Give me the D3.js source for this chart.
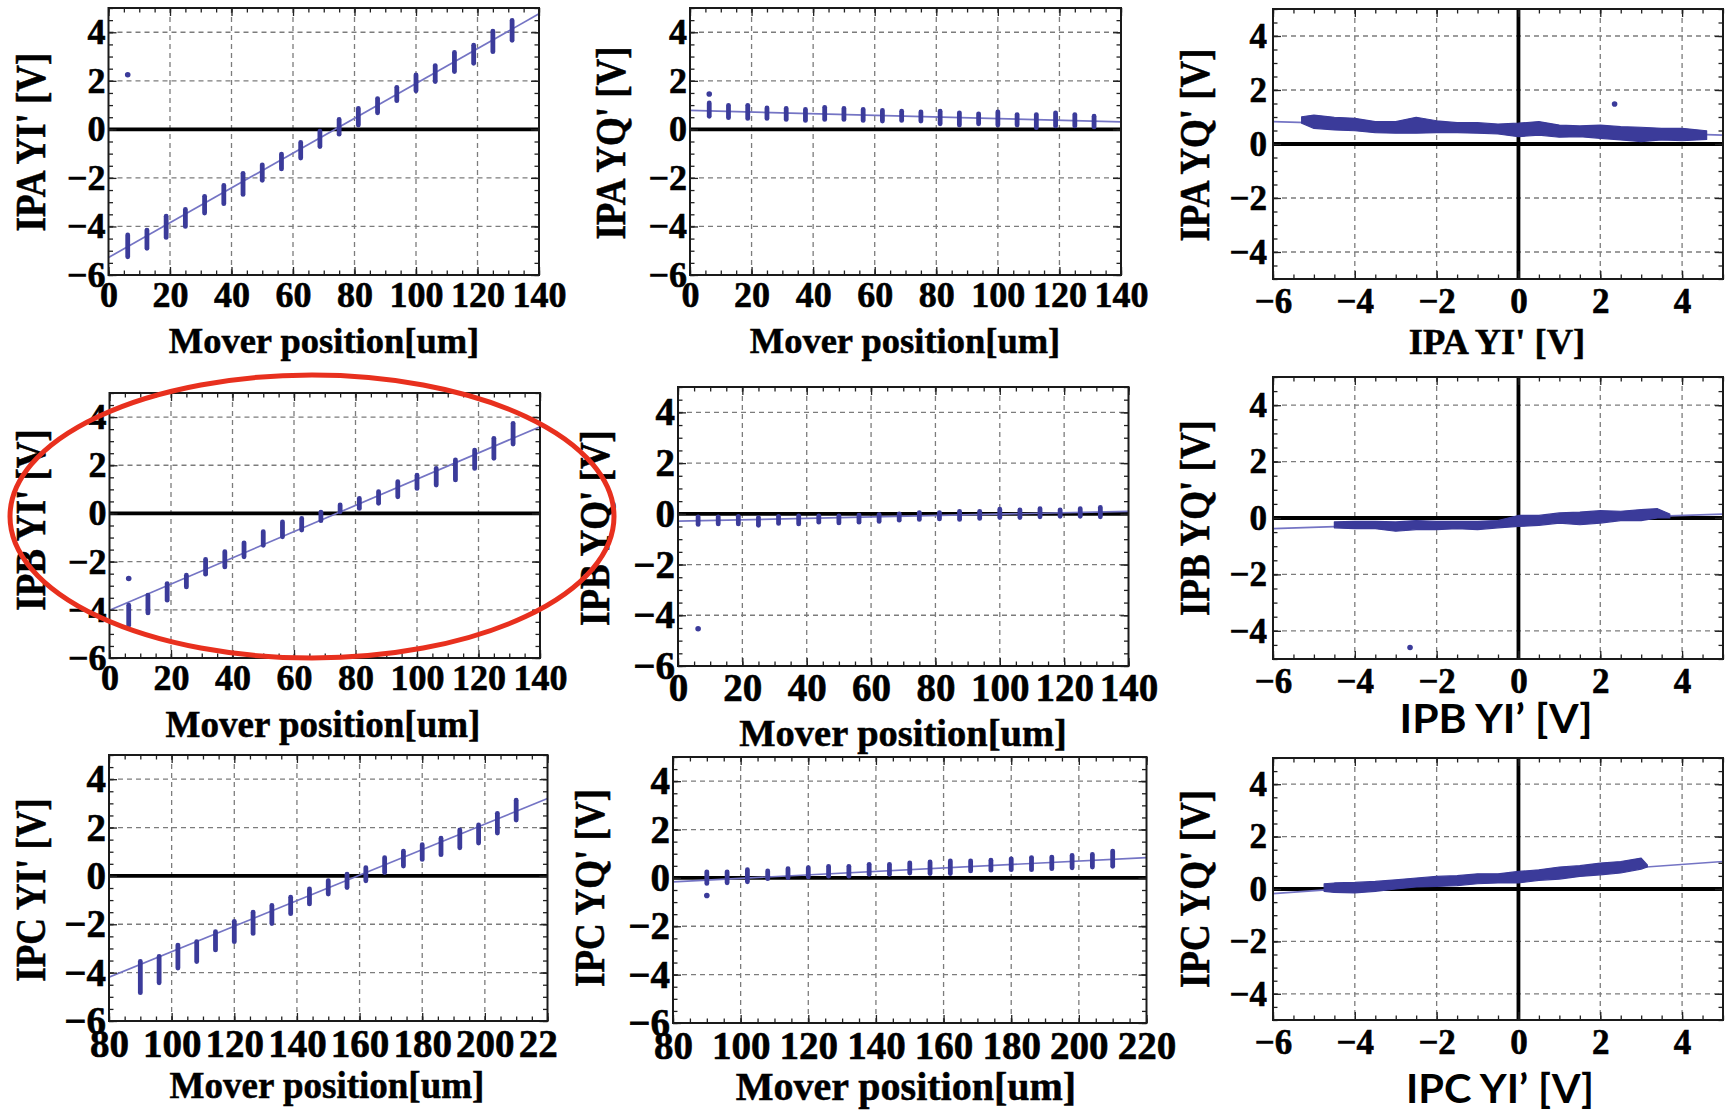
<!DOCTYPE html>
<html>
<head>
<meta charset="utf-8">
<script src="https://cdn.jsdelivr.net/npm/d3@7"></script>
<style>
  body { margin: 0; background: #fff; }
  svg { display: block; }
</style>
</head>
<body>
<svg id="chart"></svg>
<script>
// mover positions of the 21 steps (um)
const posAB = [6.25, 12.5, 18.75, 25, 31.25, 37.5, 43.75, 50, 56.25, 62.5, 68.75, 75, 81.25, 87.5, 93.75, 100, 106.25, 112.5, 118.75, 125, 131.25];
const posC = [90, 96, 102, 108, 114, 120, 126, 132, 138, 144, 150, 156, 162, 168, 174, 180, 186, 192, 198, 204, 210];

// spread of readings at each step [min, max] in volts
const ipaYI = [[-5.25, -4.35], [-4.9, -4.15], [-4.45, -3.58], [-4.0, -3.3], [-3.45, -2.76], [-3.06, -2.31], [-2.68, -1.81], [-2.1, -1.46], [-1.63, -1.02], [-1.18, -0.54], [-0.71, -0.07], [-0.2, 0.41], [0.18, 0.86], [0.68, 1.27], [1.18, 1.73], [1.59, 2.24], [1.97, 2.63], [2.38, 3.17], [2.72, 3.47], [3.2, 4.05], [3.67, 4.49]];
const ipaYQ = [[0.54, 1.09], [0.48, 0.99], [0.45, 0.99], [0.45, 0.88], [0.41, 0.86], [0.37, 0.82], [0.41, 0.91], [0.41, 0.86], [0.37, 0.82], [0.34, 0.78], [0.37, 0.75], [0.34, 0.72], [0.23, 0.75], [0.18, 0.68], [0.23, 0.64], [0.18, 0.72], [0.18, 0.61], [0.07, 0.61], [0.14, 0.68], [0.14, 0.61], [0.1, 0.54]];
const ipbYI = [[-4.64, -3.81], [-4.13, -3.39], [-3.6, -2.91], [-3.05, -2.56], [-2.52, -1.91], [-2.22, -1.59], [-1.8, -1.22], [-1.32, -0.76], [-0.97, -0.35], [-0.69, -0.21], [-0.3, 0.05], [0.07, 0.35], [0.21, 0.62], [0.42, 0.9], [0.69, 1.32], [1.04, 1.59], [1.18, 1.87], [1.39, 2.22], [1.87, 2.63], [2.29, 3.12], [2.88, 3.74]];
const ipbYQ = [[-0.42, -0.12], [-0.4, -0.12], [-0.4, -0.1], [-0.45, -0.15], [-0.38, -0.1], [-0.4, -0.08], [-0.33, -0.08], [-0.36, -0.08], [-0.33, -0.05], [-0.3, -0.03], [-0.25, 0.0], [-0.22, 0.05], [-0.2, 0.05], [-0.22, 0.1], [-0.18, 0.1], [-0.15, 0.18], [-0.15, 0.15], [-0.12, 0.2], [-0.1, 0.15], [-0.1, 0.2], [-0.12, 0.25]];
const ipcYI = [[-4.83, -3.54], [-4.42, -3.33], [-3.81, -2.86], [-3.54, -2.72], [-3.06, -2.31], [-2.72, -1.88], [-2.38, -1.5], [-1.97, -1.22], [-1.56, -0.88], [-1.16, -0.54], [-0.75, -0.2], [-0.48, 0.07], [-0.2, 0.34], [0.14, 0.75], [0.41, 1.02], [0.68, 1.29], [0.88, 1.56], [1.16, 1.9], [1.36, 2.11], [1.77, 2.59], [2.31, 3.13]];
const ipcYQ = [[-0.23, 0.25], [-0.2, 0.25], [-0.16, 0.34], [-0.03, 0.29], [0.01, 0.38], [0.04, 0.42], [0.07, 0.48], [0.07, 0.48], [0.15, 0.56], [0.15, 0.56], [0.2, 0.62], [0.18, 0.66], [0.18, 0.7], [0.29, 0.7], [0.32, 0.73], [0.34, 0.79], [0.34, 0.84], [0.38, 0.86], [0.42, 0.93], [0.45, 0.97], [0.48, 1.11]];

// stray single readings [x, y]
const ipaYIout = [[6.25, 2.25]];
const ipaYQout = [[6.25, 1.46]];
const ipbYIout = [[6.25, -2.7]];
const ipbYQout = [[6.25, -4.53]];
const ipcYIout = [];
const ipcYQout = [[90, -0.73]];
const scatAout = [[2.35, 1.48]];
const scatBout = [[-2.65, -4.59]];
const scatCout = [];

// YQ' vs YI' point clouds, edges read along YI' [YI', low YQ', high YQ']
const bandA = [[-5.3, 0.77, 1.01], [-5.0, 0.58, 1.07], [-4.5, 0.52, 0.99], [-4.0, 0.49, 0.95], [-3.5, 0.42, 0.83], [-3.0, 0.4, 0.83], [-2.5, 0.4, 0.99], [-2.0, 0.42, 0.86], [-1.5, 0.42, 0.79], [-1.0, 0.4, 0.79], [-0.5, 0.37, 0.74], [0, 0.27, 0.77], [0.5, 0.33, 0.83], [1.0, 0.25, 0.7], [1.5, 0.27, 0.67], [2.0, 0.21, 0.7], [2.5, 0.15, 0.64], [3.0, 0.09, 0.62], [3.5, 0.15, 0.58], [4.0, 0.12, 0.58], [4.6, 0.17, 0.49]];
const bandB = [[-4.5, -0.35, -0.14], [-4.0, -0.38, -0.12], [-3.5, -0.38, -0.12], [-3.0, -0.47, -0.14], [-2.5, -0.41, -0.09], [-2.0, -0.41, -0.12], [-1.5, -0.38, -0.12], [-1.0, -0.41, -0.12], [-0.5, -0.35, -0.09], [0, -0.3, 0.09], [0.5, -0.26, 0.09], [1.0, -0.18, 0.18], [1.5, -0.24, 0.21], [2.0, -0.18, 0.26], [2.5, -0.09, 0.24], [3.0, -0.09, 0.3], [3.4, 0, 0.33], [3.7, 0, 0.14]];
const bandC = [[-4.75, -0.09, 0.2], [-4.5, -0.13, 0.23], [-4.0, -0.15, 0.25], [-3.5, -0.09, 0.29], [-3.0, 0, 0.35], [-2.5, 0.08, 0.42], [-2.0, 0.1, 0.48], [-1.5, 0.13, 0.51], [-1.0, 0.2, 0.58], [-0.5, 0.23, 0.58], [0, 0.23, 0.67], [0.5, 0.33, 0.73], [1.0, 0.38, 0.84], [1.5, 0.48, 0.89], [2.0, 0.54, 0.99], [2.5, 0.61, 1.05], [3.0, 0.76, 1.18], [3.15, 0.84, 0.92]];

// linear fits, end points
const fitAYI = [[0, -5.28], [140, 4.76]];
const fitAYQ = [[0, 0.78], [140, 0.31]];
const fitBYI = [[0, -4.02], [140, 3.6]];
const fitBYQ = [[0, -0.29], [140, 0.1]];
const fitCYI = [[80, -4.19], [220, 3.2]];
const fitCYQ = [[80, -0.16], [220, 0.84]];
const fitAscat = [[-6, 0.83], [5, 0.33]];
const fitBscat = [[-6, -0.38], [5, 0.14]];
const fitCscat = [[-6, -0.18], [5, 1.05]];

// tick labels
const moverTicksAB = [0, 20, 40, 60, 80, 100, 120, 140];
const moverTicksC = [80, 100, 120, 140, 160, 180, 200, 220];
const voltTicks = [-6, -4, -2, 0, 2, 4];
const scatTicksX = [-6, -4, -2, 0, 2, 4];
const scatTicksY = [-4, -2, 0, 2, 4];

const SERIF = "'Liberation Serif', 'Times New Roman', serif";
const SANS = "Lato, 'Open Sans', sans-serif";
const DOT = "#3b3b9a";
const FIT = "#7474c4";

const svg = d3.select("#chart").attr("width", 1727).attr("height", 1113);
const defs = svg.append("defs");

const mover = (o) => Object.assign({ yd: [-6, 5], yt: voltTicks, yGrid: [-4, -2, 2, 4], scatter: false }, o);
const scat = (o) => Object.assign({ xd: [-6, 5], yd: [-5, 5], xt: scatTicksX, yt: scatTicksY, xGrid: [-4, -2, 2, 4], yGrid: [-4, -2, 2, 4], scatter: true, tickFs: 35, tickPad: 9, labelGap: 6 }, o);

const panels = [
  mover({ key: "p1", x0: 108.5, x1: 539, y0: 8, y1: 275, xd: [0, 140], xt: moverTicksAB, xGrid: [20, 40, 60, 80, 100, 120],
    pos: posAB, bars: ipaYI, dots: ipaYIout, fit: fitAYI, tickFs: 36, tickPad: 6,
    xTitle: "Mover position[um]", xTitlePos: [324, 353], titleFs: 36.5, yTitle: "IPA YI' [V]", yTitlePos: [31, 142] }),
  mover({ key: "p2", x0: 690, x1: 1121, y0: 8, y1: 275, xd: [0, 140], xt: moverTicksAB, xGrid: [20, 40, 60, 80, 100, 120],
    pos: posAB, bars: ipaYQ, dots: ipaYQout, fit: fitAYQ, tickFs: 36, tickPad: 6,
    xTitle: "Mover position[um]", xTitlePos: [905, 353], titleFs: 36.5, yTitle: "IPA YQ' [V]", yTitlePos: [611, 143] }),
  scat({ key: "p3", x0: 1273, x1: 1723, y0: 9, y1: 279, band: bandA, dots: scatAout, fit: fitAscat,
    xTitle: "IPA YI' [V]", xTitlePos: [1497, 354], titleFs: 36.5, yTitle: "IPA YQ' [V]", yTitlePos: [1195, 145] }),
  mover({ key: "p4", x0: 109.5, x1: 540, y0: 393, y1: 658, xd: [0, 140], xt: moverTicksAB, xGrid: [20, 40, 60, 80, 100, 120],
    pos: posAB, bars: ipbYI, dots: ipbYIout, fit: fitBYI, tickFs: 36, tickPad: 6,
    xTitle: "Mover position[um]", xTitlePos: [323, 737], titleFs: 37, yTitle: "IPB YI' [V]", yTitlePos: [31, 520] }),
  mover({ key: "p5", x0: 678, x1: 1128.5, y0: 387, y1: 666, xd: [0, 140], xt: moverTicksAB, xGrid: [20, 40, 60, 80, 100, 120],
    pos: posAB, bars: ipbYQ, dots: ipbYQout, fit: fitBYQ, tickFs: 39, tickPad: 7,
    xTitle: "Mover position[um]", xTitlePos: [903, 746], titleFs: 38.5, yTitle: "IPB YQ' [V]", yTitlePos: [595, 528] }),
  scat({ key: "p6", x0: 1273, x1: 1723, y0: 377, y1: 659, band: bandB, dots: scatBout, fit: fitBscat,
    xTitle: "IPB YI\u2019 [V]", xTitlePos: [1496, 733], sans: true, titleFs: 41, titleLen: 193, yTitle: "IPB YQ' [V]", yTitlePos: [1195, 518] }),
  mover({ key: "p7", x0: 109, x1: 547.5, y0: 755, y1: 1021, xd: [80, 220], xt: moverTicksC, xGrid: [100, 120, 140, 160, 180, 200],
    pos: posC, bars: ipcYI, dots: ipcYIout, fit: fitCYI, tickFs: 39, tickPad: 8, labelClip: 557,
    xTitle: "Mover position[um]", xTitlePos: [327, 1098], titleFs: 37, yTitle: "IPC YI' [V]", yTitlePos: [31, 890] }),
  mover({ key: "p8", x0: 673, x1: 1146.5, y0: 757, y1: 1023, xd: [80, 220], xt: moverTicksC, xGrid: [100, 120, 140, 160, 180, 200],
    pos: posC, bars: ipcYQ, dots: ipcYQout, fit: fitCYQ, tickFs: 39, tickPad: 8,
    xTitle: "Mover position[um]", xTitlePos: [906, 1100], titleFs: 40, yTitle: "IPC YQ' [V]", yTitlePos: [590, 888] }),
  scat({ key: "p9", x0: 1273, x1: 1723, y0: 758, y1: 1020, band: bandC, dots: scatCout, fit: fitCscat,
    xTitle: "IPC YI\u2019 [V]", xTitlePos: [1500, 1103], sans: true, titleFs: 41, titleLen: 188, yTitle: "IPC YQ' [V]", yTitlePos: [1195, 889] })
];

function drawPanel(p) {
  const x = d3.scaleLinear().domain(p.xd).range([p.x0, p.x1]);
  const y = d3.scaleLinear().domain(p.yd).range([p.y1, p.y0]);
  const w = p.x1 - p.x0, h = p.y1 - p.y0;
  const g = svg.append("g").attr("class", p.key);

  defs.append("clipPath").attr("id", "clip-" + p.key)
    .append("rect").attr("x", p.x0).attr("y", p.y0).attr("width", w).attr("height", h);

  // dashed grid
  const grid = g.append("g").attr("stroke", "#7c7c7c").attr("stroke-width", 1.3).attr("stroke-dasharray", "5,4");
  grid.selectAll(".gx").data(p.xGrid).join("line")
    .attr("x1", (d) => x(d)).attr("x2", (d) => x(d)).attr("y1", p.y0).attr("y2", p.y1);
  grid.selectAll(".gy").data(p.yGrid).join("line")
    .attr("x1", p.x0).attr("x2", p.x1).attr("y1", (d) => y(d)).attr("y2", (d) => y(d));

  // black axes through zero
  const zero = g.append("g").attr("stroke", "#000").attr("stroke-width", 3.8);
  zero.append("line").attr("x1", p.x0).attr("x2", p.x1).attr("y1", y(0)).attr("y2", y(0));
  if (p.scatter) {
    zero.append("line").attr("x1", x(0)).attr("x2", x(0)).attr("y1", p.y0).attr("y2", p.y1);
  }

  const plot = g.append("g").attr("clip-path", `url(#clip-${p.key})`);

  // fitted line
  plot.append("path")
    .datum(p.fit)
    .attr("d", d3.line().x((d) => x(d[0])).y((d) => y(d[1])))
    .attr("fill", "none")
    .attr("stroke", FIT)
    .attr("stroke-width", 1.7);

  if (p.scatter) {
    plot.append("path")
      .datum(p.band)
      .attr("d", d3.area().x((d) => x(d[0])).y0((d) => y(d[1])).y1((d) => y(d[2])))
      .attr("fill", DOT)
      .attr("stroke", DOT)
      .attr("stroke-width", 1.2)
      .attr("stroke-linejoin", "round");
  } else {
    plot.selectAll(".bar").data(p.bars).join("line")
      .attr("x1", (d, i) => x(p.pos[i])).attr("x2", (d, i) => x(p.pos[i]))
      .attr("y1", (d) => y(d[0])).attr("y2", (d) => y(d[1]))
      .attr("stroke", DOT)
      .attr("stroke-width", 4.8)
      .attr("stroke-linecap", "round");
  }

  plot.selectAll(".dot").data(p.dots).join("circle")
    .attr("cx", (d) => x(d[0])).attr("cy", (d) => y(d[1]))
    .attr("r", 2.8)
    .attr("fill", DOT);

  // frame ticks on all four sides, pointing inward
  const xStep = p.scatter ? 0.5 : 5;
  const xMinor = d3.range(p.xd[0], p.xd[1] + 1e-9, xStep);
  const yMinor = d3.range(p.yd[0], p.yd[1] + 1e-9, 0.5);
  const tickAxes = [
    [d3.axisBottom(x), xMinor, 4.5, `translate(0,${p.y1})`],
    [d3.axisBottom(x), p.xt, 8, `translate(0,${p.y1})`],
    [d3.axisTop(x), xMinor, 4.5, `translate(0,${p.y0})`],
    [d3.axisTop(x), p.xt, 8, `translate(0,${p.y0})`],
    [d3.axisLeft(y), yMinor, 4.5, `translate(${p.x0},0)`],
    [d3.axisLeft(y), p.yt, 8, `translate(${p.x0},0)`],
    [d3.axisRight(y), yMinor, 4.5, `translate(${p.x1},0)`],
    [d3.axisRight(y), p.yt, 8, `translate(${p.x1},0)`]
  ];
  tickAxes.forEach(([ax, vals, len, tr]) => {
    g.append("g")
      .attr("transform", tr)
      .call(ax.tickValues(vals).tickSize(-len).tickFormat(""))
      .call((a) => a.select(".domain").remove())
      .selectAll("line").attr("stroke", "#222").attr("stroke-width", 1.3);
  });

  // frame
  g.append("rect")
    .attr("x", p.x0).attr("y", p.y0).attr("width", w).attr("height", h)
    .attr("fill", "none").attr("stroke", "#1a1a1a").attr("stroke-width", 2);

  // tick labels
  const fmt = d3.format("d");
  const xl = g.append("g")
    .attr("transform", `translate(0,${p.y1})`)
    .call(d3.axisBottom(x).tickValues(p.xt).tickSize(0).tickPadding(p.tickPad).tickFormat(fmt));
  const yl = g.append("g")
    .attr("transform", `translate(${p.x0},0)`)
    .call(d3.axisLeft(y).tickValues(p.yt).tickSize(0).tickPadding(p.labelGap || 3).tickFormat(fmt));
  [xl, yl].forEach((a) => {
    a.select(".domain").remove();
    a.attr("font-family", SERIF).attr("font-size", p.tickFs).attr("font-weight", "bold");
    a.selectAll("text").attr("fill", "#000").attr("stroke", "#000").attr("stroke-width", 0.6);
  });
  if (p.labelClip) {
    // the last label is cut off in the original figure
    defs.append("clipPath").attr("id", "lclip-" + p.key)
      .append("rect").attr("x", 0).attr("y", -5).attr("width", p.labelClip).attr("height", 70);
    xl.attr("clip-path", `url(#lclip-${p.key})`);
  }

  // axis titles
  const xt = g.append("text")
    .attr("x", p.xTitlePos[0]).attr("y", p.xTitlePos[1])
    .attr("text-anchor", "middle")
    .attr("font-family", p.sans ? SANS : SERIF)
    .attr("font-weight", "bold")
    .attr("font-size", p.titleFs)
    .attr("stroke", "#000").attr("stroke-width", p.sans ? 0 : 0.5)
    .text(p.xTitle);
  if (p.titleLen) xt.attr("textLength", p.titleLen).attr("lengthAdjust", "spacingAndGlyphs");

  g.append("text")
    .attr("transform", `translate(${p.yTitlePos[0]},${p.yTitlePos[1]}) scale(1.12,1) rotate(-90)`)
    .attr("text-anchor", "middle")
    .attr("dy", "0.33em")
    .attr("font-family", SERIF)
    .attr("font-weight", "bold")
    .attr("font-size", 37)
    .attr("stroke", "#000").attr("stroke-width", 0.5)
    .text(p.yTitle);
}

panels.forEach(drawPanel);

// highlight ring around the IPB YI' panel
svg.append("ellipse")
  .attr("cx", 312).attr("cy", 516.5)
  .attr("rx", 302).attr("ry", 141.5)
  .attr("fill", "none")
  .attr("stroke", "#e8301e")
  .attr("stroke-width", 5);
</script>
</body>
</html>
